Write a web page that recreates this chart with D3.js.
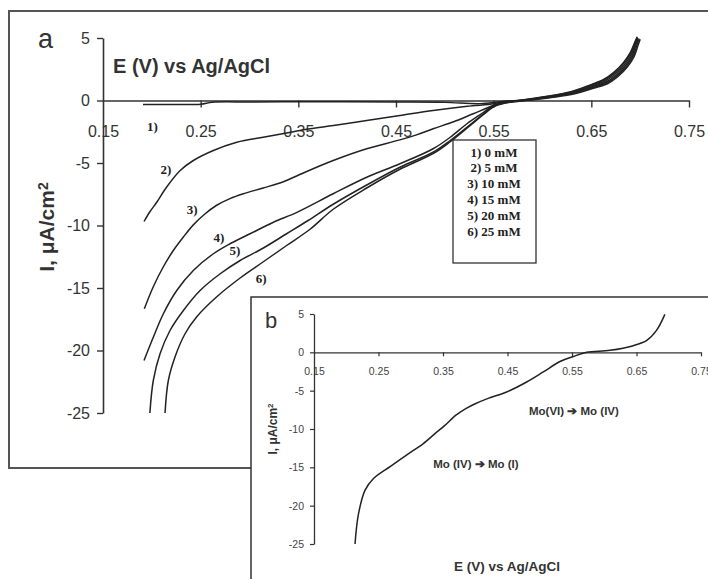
<!DOCTYPE html>
<html><head><meta charset="utf-8">
<script src="https://cdn.jsdelivr.net/npm/d3@7"></script>
<style>body{margin:0;background:#fff;} svg{display:block;font-family:Arial,"Liberation Sans",sans-serif;}</style>
</head><body><svg id="c" width="708" height="579"></svg>
<script>
// ---------- data ----------
const xTicks = [0.15, 0.25, 0.35, 0.45, 0.55, 0.65, 0.75];
const xTickLabels = ["0.15", "0.25", "0.35", "0.45", "0.55", "0.65", "0.75"];
const yTicks = [5, 0, -5, -10, -15, -20, -25];
const yTickLabels = ["5", "0", "-5", "-10", "-15", "-20", "-25"];
const seriesNames = ["1) 0 mM", "2) 5 mM", "3) 10 mM", "4) 15 mM", "5) 20 mM", "6) 25 mM"];
const curveTags = ["1)", "2)", "3)", "4)", "5)", "6)"];
const tagE = [0.2007, 0.2145, 0.2412, 0.2688, 0.2852, 0.3119];
const tagI = [-2.1, -5.48, -8.68, -10.92, -11.96, -14.2];

const s1 = [[0.191,-0.32],[0.22,-0.32],[0.25,-0.30],[0.262,-0.14],[0.30,-0.12],[0.35,-0.10],[0.40,-0.10],[0.45,-0.12],[0.50,-0.15],[0.536,-0.25],
  [0.557,-0.10],[0.581,0.06],[0.605,0.34],[0.629,0.70],[0.649,1.25],[0.663,1.70],[0.673,2.25],[0.683,3.05],[0.690,3.85],[0.695,4.75],[0.697,5.1]];
const s2 = [[0.192,-9.68],[0.198,-8.9],[0.205,-8.14],[0.215,-6.94],[0.229,-5.6],[0.2425,-4.8],[0.263,-4.0],[0.287,-3.34],[0.314,-2.94],[0.331,-2.7],[0.345,-2.5],[0.362,-2.26],[0.386,-2.0],[0.42,-1.6],[0.454,-1.2],[0.488,-0.8],[0.523,-0.46],[0.550,-0.26],
  [0.558,-0.12],[0.581,0.05],[0.605,0.32],[0.629,0.66],[0.649,1.20],[0.663,1.62],[0.673,2.15],[0.683,2.95],[0.690,3.75],[0.695,4.65],[0.697,5.05]];
const s3 = [[0.1923,-16.66],[0.2015,-14.9],[0.2118,-13.3],[0.222,-12.0],[0.2325,-10.9],[0.2425,-9.95],[0.254,-9.1],[0.266,-8.4],[0.28,-7.85],[0.2937,-7.46],[0.314,-7.0],[0.3347,-6.5],[0.352,-5.9],[0.3857,-4.8],[0.42,-3.86],[0.454,-3.15],[0.471,-2.75],[0.488,-2.26],[0.509,-1.7],[0.529,-1.06],[0.5496,-0.4],
  [0.559,-0.14],[0.582,0.04],[0.606,0.30],[0.630,0.63],[0.650,1.15],[0.664,1.55],[0.674,2.08],[0.684,2.88],[0.691,3.70],[0.6955,4.6],[0.6975,5.0]];
const s4 = [[0.192,-20.8],[0.2015,-18.94],[0.2118,-17.06],[0.2255,-15.2],[0.2425,-13.6],[0.263,-12.26],[0.280,-11.46],[0.3006,-10.66],[0.3245,-9.74],[0.3485,-8.95],[0.3857,-7.46],[0.420,-6.14],[0.454,-5.06],[0.488,-3.86],[0.5055,-2.94],[0.5226,-1.86],[0.5397,-0.94],[0.5496,-0.4],
  [0.560,-0.16],[0.583,0.03],[0.607,0.28],[0.631,0.60],[0.651,1.10],[0.665,1.48],[0.675,2.0],[0.685,2.8],[0.692,3.65],[0.696,4.55],[0.698,4.95]];
const s5 = [[0.198,-25],[0.2015,-22.4],[0.2084,-20.26],[0.2186,-18.4],[0.2323,-16.8],[0.2494,-15.2],[0.270,-13.86],[0.2904,-12.8],[0.3142,-11.8],[0.338,-10.66],[0.360,-9.6],[0.3857,-8.3],[0.420,-6.76],[0.454,-5.34],[0.488,-4.14],[0.5055,-3.2],[0.5226,-2.14],[0.5397,-1.06],[0.5496,-0.48],
  [0.561,-0.18],[0.584,0.02],[0.608,0.26],[0.632,0.57],[0.652,1.05],[0.666,1.42],[0.676,1.95],[0.686,2.75],[0.693,3.6],[0.697,4.5],[0.699,4.95]];
const s6 = [[0.2135,-25],[0.2169,-22.4],[0.2238,-20.5],[0.234,-18.66],[0.246,-17.3],[0.2665,-15.7],[0.2904,-14.2],[0.3142,-12.9],[0.338,-11.6],[0.362,-10.3],[0.3857,-8.7],[0.420,-7.0],[0.454,-5.5],[0.488,-4.25],[0.5055,-3.3],[0.5226,-2.22],[0.5397,-1.12],[0.5496,-0.52],
  [0.562,-0.20],[0.585,0.01],[0.609,0.24],[0.633,0.54],[0.653,1.0],[0.667,1.36],[0.677,1.9],[0.687,2.7],[0.694,3.55],[0.698,4.45],[0.700,4.9]];
const mainSeries = [s1, s2, s3, s4, s5, s6];

const insetCurve = [[0.2136,-25],[0.2187,-21.2],[0.229,-18.0],[0.243,-16.4],[0.268,-14.9],[0.304,-12.8],[0.3195,-11.9],[0.3376,-10.6],[0.352,-9.6],[0.37,-8.2],[0.386,-7.3],[0.40,-6.7],[0.42,-6.0],[0.4487,-5.17],[0.4797,-3.87],[0.5055,-2.56],[0.5314,-1.2],[0.552,-0.55],[0.5728,0],[0.609,0.26],[0.645,0.87],[0.666,1.56],[0.681,2.86],[0.694,4.95]];
const insetNotes = ["Mo(VI) \u2794 Mo (IV)", "Mo (IV) \u2794 Mo (I)"];
const noteE = [0.553, 0.401];
const noteI = [-7.65, -14.5];
const xTitle = "E (V) vs Ag/AgCl";

// ---------- drawing ----------
const svg = d3.select("#c");
const ink = "#222";

svg.append("rect").attr("x", 9).attr("y", 11).attr("width", 730).attr("height", 457)
  .attr("fill", "#fff").attr("stroke", "#555").attr("stroke-width", 2);

const x = d3.scaleLinear().domain([0.15, 0.75]).range([103, 689]);
const y = d3.scaleLinear().domain([-25, 5]).range([413, 38]);

const gx = svg.append("g").attr("transform", `translate(0,${y(0)})`)
  .call(d3.axisBottom(x).tickValues(xTicks).tickFormat((d, i) => xTickLabels[i]).tickSize(7).tickSizeOuter(0).tickPadding(18));
const gy = svg.append("g").attr("transform", `translate(${x(0.15)},0)`)
  .call(d3.axisLeft(y).tickValues(yTicks).tickFormat((d, i) => yTickLabels[i]).tickSize(6).tickSizeOuter(0).tickPadding(7));
[gx, gy].forEach(g => {
  g.select(".domain").attr("stroke", "#333").attr("stroke-width", 1.6);
  g.selectAll(".tick line").attr("stroke", "#333").attr("stroke-width", 1.4);
  g.selectAll(".tick text").attr("fill", "#333").style("font-size", "16px").style("font-family", "Arial, 'Liberation Sans', sans-serif");
});
gx.selectAll(".tick").filter(d => d === 0.15).select("line").remove();

const line = d3.line().x(d => x(d[0])).y(d => y(d[1])).curve(d3.curveCatmullRom.alpha(0.5));
svg.append("g").selectAll("path").data(mainSeries).join("path")
  .attr("d", line).attr("fill", "none").attr("stroke", ink).attr("stroke-width", 1.5);

svg.append("g").selectAll("text").data(curveTags).join("text")
  .attr("x", (d, i) => x(tagE[i])).attr("y", (d, i) => y(tagI[i]))
  .attr("text-anchor", "middle").attr("dominant-baseline", "central")
  .style("font-family", "'Liberation Serif','Times New Roman',serif").style("font-weight", "bold").style("font-size", "13px")
  .attr("fill", ink).text(d => d);

svg.append("text").attr("x", 38).attr("y", 48).style("font-size", "27px").attr("fill", "#333").text("a");
svg.append("text").attr("x", 113).attr("y", 73).style("font-size", "20px").style("font-weight", "bold").attr("fill", "#333").text(xTitle);
const yt = svg.append("text").attr("transform", "translate(54,227) rotate(-90)").attr("text-anchor", "middle")
  .style("font-size", "21px").style("font-weight", "bold").attr("fill", "#333");
yt.append("tspan").text("I, \u03bcA/cm");
yt.append("tspan").attr("dy", "-0.45em").style("font-size", "14px").text("2");

svg.append("rect").attr("x", 453).attr("y", 140).attr("width", 83).attr("height", 123)
  .attr("fill", "#fff").attr("stroke", "#333").attr("stroke-width", 1.3);
svg.append("g").selectAll("text").data(seriesNames).join("text")
  .attr("x", 494).attr("y", (d, i) => 152 + i * 15.8).attr("text-anchor", "middle").attr("dominant-baseline", "central")
  .style("font-family", "'Liberation Serif','Times New Roman',serif").style("font-weight", "bold").style("font-size", "13px")
  .attr("fill", ink).text(d => d);

// ---------- inset b ----------
svg.append("rect").attr("x", 251).attr("y", 297).attr("width", 500).attr("height", 320)
  .attr("fill", "#fff").attr("stroke", "#333").attr("stroke-width", 1.5);
const xi = d3.scaleLinear().domain([0.15, 0.75]).range([314, 701]);
const yi = d3.scaleLinear().domain([-25, 5]).range([544, 314]);
const gxi = svg.append("g").attr("transform", `translate(0,${yi(0)})`)
  .call(d3.axisBottom(xi).tickValues(xTicks).tickFormat((d, i) => xTickLabels[i]).tickSize(4).tickSizeOuter(0).tickPadding(11));
const gyi = svg.append("g").attr("transform", `translate(${xi(0.15)},0)`)
  .call(d3.axisLeft(yi).tickValues(yTicks).tickFormat((d, i) => yTickLabels[i]).tickSize(4).tickSizeOuter(0).tickPadding(6));
[gxi, gyi].forEach(g => {
  g.select(".domain").attr("stroke", "#333").attr("stroke-width", 1.3);
  g.selectAll(".tick line").attr("stroke", "#333").attr("stroke-width", 1.2);
  g.selectAll(".tick text").attr("fill", "#444").style("font-size", "10.5px").style("font-family", "Arial, 'Liberation Sans', sans-serif");
});
gxi.selectAll(".tick").filter(d => d === 0.15).select("line").remove();

const linei = d3.line().x(d => xi(d[0])).y(d => yi(d[1])).curve(d3.curveCatmullRom.alpha(0.5));
svg.append("path").datum(insetCurve).attr("d", linei).attr("fill", "none").attr("stroke", ink).attr("stroke-width", 1.5);

svg.append("text").attr("x", 265).attr("y", 328).style("font-size", "22px").attr("fill", "#333").text("b");
const yti = svg.append("text").attr("transform", "translate(277,429) rotate(-90)").attr("text-anchor", "middle")
  .style("font-size", "12px").style("font-weight", "bold").attr("fill", "#333");
yti.append("tspan").text("I, \u03bcA/cm");
yti.append("tspan").attr("dy", "-0.45em").style("font-size", "8px").text("2");

svg.append("g").selectAll("text").data(insetNotes).join("text")
  .attr("x", (d, i) => xi(noteE[i])).attr("y", (d, i) => yi(noteI[i]))
  .attr("text-anchor", "middle").attr("dominant-baseline", "central")
  .style("font-size", "11.5px").style("font-weight", "bold").attr("fill", "#333").text(d => d);
svg.append("text").attr("x", 507).attr("y", 571).attr("text-anchor", "middle")
  .style("font-size", "13.5px").style("font-weight", "bold").attr("fill", "#333").text(xTitle);
</script></body></html>
